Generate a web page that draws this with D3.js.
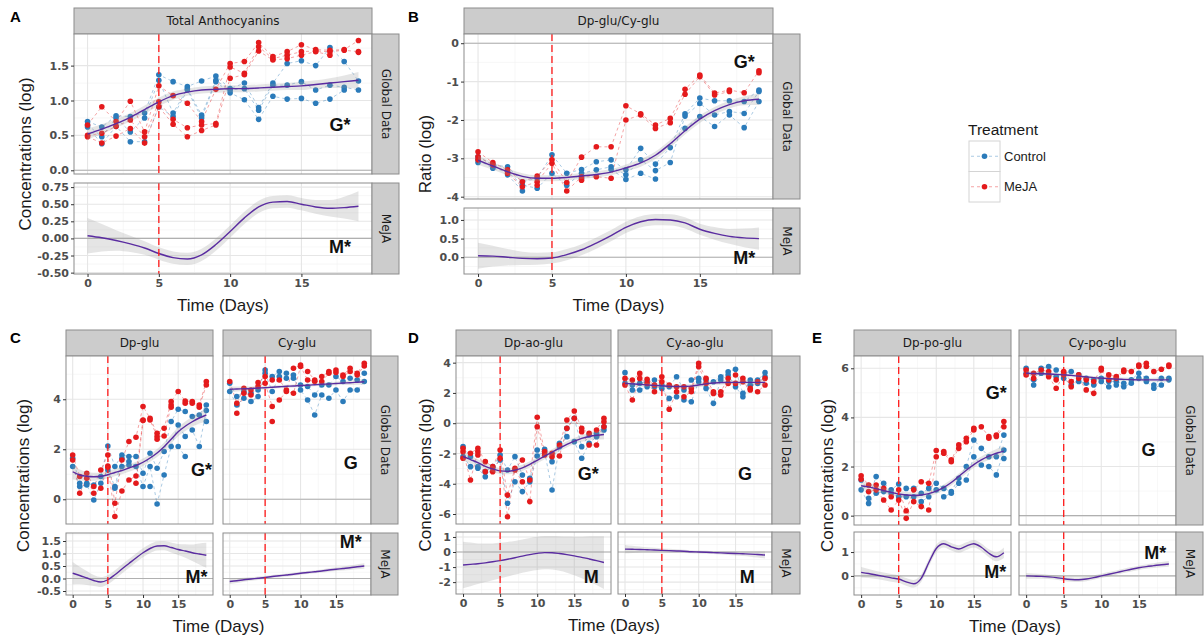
<!DOCTYPE html>
<html>
<head>
<meta charset="utf-8">
<script src="https://cdn.jsdelivr.net/npm/d3@7"></script>
<style>
  body { margin: 0; background: #fff; }
  text { font-family: Arial, "Liberation Sans", sans-serif; }
</style>
</head>
<body>
<svg id="chart" width="1204" height="641"></svg>
<script>
// ---- data (one entry per day 0..19, replicates inside) ----
var days = d3.range(20);

// A: total anthocyanins
var antCtrl = [[0.70,0.65,0.62],[0.62,0.48,0.38],[0.78,0.75,0.63],[0.77,0.55,0.41],[0.82,0.75,0.41],[1.37,1.29,0.91],[1.27,0.82,0.77],[1.20,1.17,1.15],[1.28,0.79,0.75],[1.35,1.29,1.27],[1.17,1.15,1.11],[1.25,1.17,1.01],[0.90,0.86,0.73],[1.25,1.22,1.06],[1.53,1.22,1.02],[1.57,1.27,1.03],[1.50,1.15,0.96],[1.76,1.22,1.02],[1.56,1.19,1.15],[1.28,1.15]];
var antMeja = [[0.65,0.50,0.48],[0.91,0.53,0.39],[0.70,0.63,0.49],[0.99,0.72,0.60],[0.55,0.48,0.39],[1.21,0.98,0.91],[1.07,0.73,0.66],[0.96,0.61,0.48],[0.70,0.65,0.57],[1.16,0.67,0.65],[1.53,1.48,1.32],[1.56,1.39,1.37],[1.83,1.77,1.71],[1.63,1.60,1.58],[1.70,1.65,1.60],[1.80,1.70,1.65],[1.73,1.71,1.70],[1.72,1.70,1.65],[1.73,1.72],[1.86,1.70,1.69]];
var antFit = [0.52,0.59,0.67,0.76,0.87,0.98,1.07,1.12,1.15,1.16,1.17,1.17,1.18,1.19,1.20,1.21,1.23,1.25,1.27,1.29];
var antFitSe = [0.08,0.07,0.06,0.06,0.06,0.06,0.06,0.05,0.05,0.05,0.05,0.05,0.05,0.05,0.05,0.06,0.06,0.07,0.09,0.12];
var antEff = [0.04,0.01,-0.03,-0.08,-0.14,-0.22,-0.28,-0.30,-0.24,-0.09,0.10,0.30,0.46,0.53,0.54,0.50,0.46,0.44,0.45,0.47];
var antEffSe = [0.26,0.20,0.15,0.12,0.10,0.09,0.09,0.09,0.09,0.09,0.09,0.09,0.09,0.09,0.09,0.09,0.10,0.12,0.16,0.22];

// B: Dp-glu / Cy-glu ratio
var ratCtrl = [[-2.96,-3.04,-3.11],[-3.17,-3.26],[-3.22,-3.35,-3.43],[-3.61,-3.70,-3.85],[-3.52,-3.78],[-2.91,-3.39],[-3.39,-3.70],[-3.29,-3.39,-3.52],[-3.09,-3.30],[-3.04,-3.22,-3.29],[-3.30,-3.43,-3.55],[-2.74,-3.04,-3.39],[-3.15,-3.32,-3.54],[-2.72,-3.11],[-1.84,-1.90,-2.22],[-1.43,-1.57,-1.91],[-1.50,-1.87,-2.17],[-1.50,-1.78,-1.87],[-1.52,-1.83,-2.20],[-1.22,-1.26,-1.52]];
var ratMeja = [[-2.83,-2.96,-3.04],[-3.11,-3.17],[-3.30,-3.39],[-3.61,-3.74],[-3.46,-3.61,-3.70],[-3.04,-3.13],[-3.63,-3.85],[-2.97,-3.48,-3.57],[-2.70,-3.48],[-2.70,-3.52],[-1.63,-2.00],[-1.84,-1.87],[-2.13,-2.22],[-1.96,-2.07],[-1.20,-1.33],[-0.83,-0.87],[-1.30,-1.35],[-1.22,-1.26],[-1.29],[-0.72,-0.77]];
var ratFit = [-3.05,-3.20,-3.35,-3.47,-3.52,-3.52,-3.50,-3.46,-3.42,-3.36,-3.25,-3.12,-2.92,-2.62,-2.28,-1.98,-1.76,-1.60,-1.50,-1.46];
var ratFitSe = [0.12,0.10,0.09,0.08,0.08,0.08,0.08,0.08,0.08,0.08,0.09,0.10,0.10,0.10,0.10,0.10,0.10,0.10,0.12,0.15];
var ratEff = [0.04,0.03,0.00,-0.03,-0.04,-0.02,0.07,0.20,0.38,0.58,0.80,0.95,1.01,1.00,0.92,0.75,0.64,0.56,0.52,0.50];
var ratEffSe = [0.35,0.28,0.22,0.18,0.16,0.15,0.15,0.15,0.15,0.15,0.15,0.15,0.15,0.15,0.15,0.15,0.17,0.20,0.25,0.30];

// C: Dp-glu, Cy-glu
var dpgCtrl = [[1.64,1.31],[0.64,0.51],[0.64,0.57],[0.57,-0.03],[0.91,0.64],[2.13,1.17],[1.31,0.51,0.44],[1.77,1.64,1.31],[1.71,1.51,1.37],[1.71,1.31],[1.04,0.51],[1.84,1.31,0.51],[1.24,-0.19],[1.91,0.97],[3.11,2.11],[3.60,2.97,2.11],[3.51,2.51,1.71],[3.31,2.77],[3.37,2.11],[3.77,3.55,3.11]];
var dpgMeja = [[1.77,1.57],[0.91,0.24],[1.04,0.84],[0.51,0.24],[1.17,0.44],[1.77,1.33,1.28],[-0.16,-0.69],[1.57,0.33],[2.31,0.77],[2.48,0.93,0.64],[3.71,3.17,3.15],[3.24,3.17],[2.64,2.51,2.40],[2.84,2.53],[3.91,3.77,3.68],[4.31],[3.93,3.84],[3.91,3.84],[3.77,3.68],[4.71,4.57]];
var dpgFit = [1.10,0.97,0.92,0.90,0.92,0.98,1.07,1.15,1.25,1.35,1.48,1.65,1.85,2.10,2.40,2.70,2.92,3.10,3.25,3.37];
var dpgFitSe = [0.30,0.22,0.18,0.16,0.15,0.15,0.15,0.15,0.15,0.15,0.15,0.15,0.16,0.17,0.18,0.18,0.19,0.20,0.22,0.28];
var dpgEff = [0.21,0.12,0.02,-0.08,-0.14,-0.05,0.15,0.38,0.60,0.82,1.03,1.20,1.30,1.31,1.24,1.16,1.10,1.03,0.98,0.93];
var dpgEffSe = [0.45,0.35,0.28,0.22,0.20,0.18,0.18,0.18,0.18,0.18,0.18,0.18,0.18,0.18,0.20,0.22,0.27,0.33,0.42,0.50];

var cygCtrl = [[4.64,4.31],[4.11,3.77],[4.31,4.04],[4.24,3.91],[4.37,4.11],[5.17,5.04],[4.91,4.31],[5.11,4.91],[5.04,4.84],[4.97,4.84],[4.57,4.37],[4.51,3.97],[4.17,3.37],[4.57,4.17],[4.57,4.04],[4.91,4.37],[4.71,3.91],[4.84,4.37],[4.77,4.37],[5.04,4.71]];
var cygMeja = [[4.71],[3.84,3.44],[4.44,4.24],[4.37,4.17],[4.67,4.51],[4.91,4.64],[4.77,3.71,3.11],[4.77,3.97],[4.37,4.31],[5.24,4.24],[5.37,5.31],[5.11,4.77],[4.77,4.71],[4.91,4.71],[5.11,5.04],[5.17,5.07],[4.97,4.91],[5.24,5.11],[5.04,4.97],[5.44,5.33]];
var cygFit = [4.40,4.41,4.42,4.43,4.45,4.46,4.48,4.50,4.52,4.53,4.55,4.56,4.58,4.60,4.61,4.63,4.65,4.66,4.68,4.70];
var cygFitSe = [0.12,0.10,0.09,0.08,0.07,0.07,0.06,0.06,0.06,0.06,0.06,0.06,0.06,0.06,0.07,0.07,0.08,0.09,0.10,0.12];
var cygEff = [-0.12,-0.09,-0.05,-0.02,0.01,0.04,0.08,0.11,0.14,0.17,0.21,0.24,0.27,0.30,0.34,0.37,0.40,0.43,0.47,0.50];
var cygEffSe = [0.10,0.09,0.08,0.07,0.07,0.06,0.06,0.06,0.06,0.06,0.06,0.06,0.06,0.06,0.07,0.07,0.08,0.09,0.10,0.11];

// D: Dp-ao-glu, Cy-ao-glu
var dpaCtrl = [[-1.55,-2.21],[-2.21,-2.87],[-2.87,-2.98],[-3.20,-3.53],[-2.87,-2.98],[-2.10,-2.43],[-3.09,-5.29],[-2.21,-3.87],[-3.42,-4.52],[-3.64,-3.87],[-1.77,-2.17],[-1.73,-1.88],[-2.54,-4.41],[-1.33,-1.55],[-0.34,-0.89],[0.32,-1.22],[-1.55,-2.32],[-0.78,-1.33],[-0.67,-0.89],[-0.23,-0.45]];
var dpaMeja = [[-1.66,-1.88,-2.32],[-1.99,-3.75],[-1.66,-1.88,-2.10],[-2.54,-3.20],[-2.87,-3.20],[-1.77,-2.32],[-4.75,-6.18],[-2.98,-3.09],[-2.43,-3.87],[-3.75,-5.18],[0.39,-0.23],[-1.88,-2.10],[-1.99,-2.21],[-1.44,-2.17],[0.21,-0.34],[0.81,0.32],[-0.34,-0.56],[-0.67,-1.44],[-0.45,-1.44],[0.32,0.10,-0.23]];
var dpaFit = [-2.20,-2.40,-2.60,-2.85,-3.02,-3.15,-3.18,-3.10,-2.95,-2.72,-2.45,-2.18,-1.92,-1.65,-1.40,-1.18,-1.00,-0.88,-0.80,-0.75];
var dpaFitSe = [0.30,0.25,0.22,0.20,0.20,0.20,0.20,0.20,0.20,0.20,0.20,0.20,0.20,0.20,0.20,0.20,0.22,0.24,0.27,0.32];
var dpaEff = [-0.86,-0.82,-0.78,-0.72,-0.65,-0.57,-0.48,-0.38,-0.27,-0.17,-0.09,-0.04,-0.05,-0.10,-0.17,-0.26,-0.36,-0.46,-0.57,-0.70];
var dpaEffSe = [1.55,1.45,1.35,1.28,1.22,1.18,1.15,1.12,1.10,1.10,1.10,1.10,1.12,1.15,1.20,1.28,1.38,1.50,1.62,1.75];

var cyaCtrl = [[3.34,2.63],[2.52,2.19],[2.63,2.19],[2.74,2.41],[2.85,2.41],[2.52,2.30],[2.41,1.64],[3.07,1.75],[2.19,1.53],[2.85,1.42],[2.96,2.74],[2.85,2.30],[2.74,1.31],[3.07,2.85],[3.40,3.18],[3.56,2.41],[1.97,1.75],[2.85,2.52],[2.85,2.63],[3.34,3.07]];
var cyaMeja = [[2.96,2.52],[2.85,1.53],[3.29,2.96],[2.90,2.63],[2.52,2.08],[3.07,2.74],[2.52,0.92],[2.41,2.08],[2.41,1.75],[2.30,2.08],[3.95,3.73],[2.96,2.63],[2.08,1.97],[2.08,1.86],[2.96,2.63],[3.18,2.63],[2.96,2.74],[2.30,2.19],[2.74,2.08],[2.96,2.52]];
var cyaFit = [2.63,2.60,2.57,2.53,2.50,2.47,2.44,2.42,2.42,2.45,2.52,2.60,2.66,2.68,2.70,2.70,2.70,2.70,2.70,2.70];
var cyaFitSe = [0.20,0.17,0.15,0.14,0.14,0.14,0.14,0.14,0.14,0.14,0.14,0.14,0.14,0.14,0.14,0.14,0.15,0.16,0.18,0.21];
var cyaEff = [0.19,0.18,0.17,0.15,0.13,0.11,0.09,0.07,0.05,0.02,0.00,-0.02,-0.04,-0.06,-0.08,-0.10,-0.12,-0.14,-0.17,-0.20];
var cyaEffSe = [0.28,0.24,0.20,0.17,0.15,0.13,0.12,0.11,0.10,0.10,0.10,0.10,0.10,0.11,0.12,0.13,0.15,0.17,0.20,0.23];

// E: Dp-po-glu, Cy-po-glu
var dppCtrl = [[1.45,1.05],[0.71,0.50],[1.59,0.91],[1.32,0.98],[1.05,0.91],[1.29,0.77],[1.11,0.77],[1.11,0.77],[0.91,0.57],[1.11,0.77],[1.32,1.05],[1.11,0.77],[0.98,0.91],[1.52,1.32],[2.00,1.45],[3.08,2.40],[2.74,2.06],[2.40,2.00],[2.40,1.66],[3.28,2.67,2.33]];
var dppMeja = [[1.62,1.48],[1.25,0.98],[1.25,1.05],[1.11,0.64],[0.77,0.23],[1.05,0.64],[0.20,-0.11],[1.05,0.57],[1.38,0.37],[1.32,0.23],[2.65,2.40],[2.61,2.54],[2.27,2.20],[2.88,2.74],[3.15,3.01],[3.56,3.49],[3.62],[3.22,3.15],[3.28,3.22],[3.83,3.62]];
var dppFit = [1.22,1.17,1.10,1.02,0.95,0.88,0.84,0.82,0.84,0.90,1.00,1.15,1.35,1.60,1.85,2.08,2.27,2.42,2.54,2.63];
var dppFitSe = [0.20,0.16,0.14,0.13,0.12,0.12,0.12,0.12,0.12,0.12,0.12,0.12,0.12,0.12,0.13,0.13,0.14,0.15,0.17,0.22];
var dppEff = [0.15,0.10,0.04,-0.02,-0.08,-0.13,-0.25,-0.33,-0.10,0.55,1.15,1.35,1.22,1.13,1.25,1.35,1.20,0.95,0.80,0.97];
var dppEffSe = [0.22,0.19,0.17,0.16,0.16,0.16,0.16,0.16,0.16,0.16,0.16,0.16,0.16,0.16,0.16,0.16,0.16,0.17,0.19,0.22];

var cypCtrl = [[6.00,5.80],[5.53,5.32],[6.00,5.80],[6.07,5.73],[5.93,5.66],[5.80,5.59],[5.87,5.32],[5.73,5.46],[5.59,5.39],[5.53,5.32],[5.59,5.46],[5.46,5.25],[5.46,5.32],[5.39,5.25],[5.53,5.39],[5.80,5.59],[5.59,5.46],[5.32,5.19],[5.59,5.32],[5.59,5.53]];
var cypMeja = [[5.93,5.73],[5.80,5.59],[5.93],[5.87,5.66],[5.53,5.19],[5.87,5.73],[5.46,5.25],[5.73,5.59],[5.53,5.12],[5.46,4.98],[6.00,5.93],[5.73,5.53],[5.66,5.59],[5.93,5.87],[5.87],[6.13,6.07],[6.20,6.07],[5.87],[5.96],[6.13,6.07]];
var cypFit = [5.80,5.79,5.78,5.77,5.75,5.73,5.71,5.68,5.65,5.62,5.60,5.58,5.56,5.55,5.54,5.53,5.53,5.53,5.53,5.53];
var cypFitSe = [0.10,0.09,0.08,0.07,0.07,0.07,0.07,0.07,0.07,0.07,0.07,0.07,0.07,0.07,0.07,0.07,0.07,0.08,0.09,0.10];
var cypEff = [0.00,-0.01,-0.02,-0.04,-0.07,-0.12,-0.15,-0.16,-0.13,-0.07,0.00,0.07,0.14,0.21,0.28,0.34,0.39,0.43,0.47,0.50];
var cypEffSe = [0.12,0.11,0.10,0.09,0.09,0.09,0.09,0.09,0.09,0.09,0.09,0.09,0.09,0.09,0.09,0.09,0.09,0.10,0.11,0.12];

var treatments = ["Control", "MeJA"];

// ---- styling ----
var colCtrl = "#2b7bba", colMeja = "#e41a1c", colFit = "#5a2ca0";
var stripFill = "#cccccc", frame = "#8c8c8c";
var tickFont = "'DejaVu Sans', Verdana, sans-serif";
var svg = d3.select("#chart");
var clipCount = 0;

function fmt(spec) {
  var f = d3.format(spec);
  return function(v) { return f(v).replace("\u2212", "-"); };
}

// layout of each figure block
var groups = [
  { letter: "A", letterPos: [10, 22], yTitle: "Concentrations (log)", yTitleX: 25,
    cols: [[74, 372]], strip: [8, 34], top: [34, 174], bot: [183, 274], rstrip: [372, 399],
    yTop: [-0.053, 1.953], yTopTicks: [0, 0.5, 1, 1.5], yTopFmt: ".1f",
    yBot: [-0.52, 0.81], yBotTicks: [-0.5, -0.25, 0, 0.25, 0.5, 0.75], yBotFmt: ".2f",
    facets: [
      { name: "Total Anthocyanins", ctrl: antCtrl, meja: antMeja, fit: antFit, fitSe: antFitSe, eff: antEff, effSe: antEffSe,
        topNote: ["G*", 17.7, 0.65], botNote: ["M*", 17.7, -0.125] }
    ] },
  { letter: "B", letterPos: [408, 22], yTitle: "Ratio (log)", yTitleX: 425,
    cols: [[464, 773]], strip: [8, 34], top: [34, 199], bot: [208, 274], rstrip: [773, 800],
    yTop: [-4.06, 0.24], yTopTicks: [-4, -3, -2, -1, 0], yTopFmt: "d",
    yBot: [-0.45, 1.32], yBotTicks: [0, 0.5, 1], yBotFmt: ".1f",
    facets: [
      { name: "Dp-glu/Cy-glu", ctrl: ratCtrl, meja: ratMeja, fit: ratFit, fitSe: ratFitSe, eff: ratEff, effSe: ratEffSe,
        topNote: ["G*", 18.0, -0.49], botNote: ["M*", 18.0, -0.02] }
    ] },
  { letter: "C", letterPos: [10, 343], yTitle: "Concentrations (log)", yTitleX: 23,
    cols: [[66, 213], [223, 371]], strip: [330, 356], top: [356, 524], bot: [533, 595], rstrip: [371, 398],
    yTop: [-0.99, 5.73], yTopTicks: [0, 2, 4], yTopFmt: "d",
    yBot: [-0.66, 1.82], yBotTicks: [-0.5, 0, 0.5, 1, 1.5], yBotFmt: ".1f",
    facets: [
      { name: "Dp-glu", ctrl: dpgCtrl, meja: dpgMeja, fit: dpgFit, fitSe: dpgFitSe, eff: dpgEff, effSe: dpgEffSe,
        topNote: ["G*", 18.3, 1.17], botNote: ["M*", 17.6, 0.06] },
      { name: "Cy-glu", ctrl: cygCtrl, meja: cygMeja, fit: cygFit, fitSe: cygFitSe, eff: cygEff, effSe: cygEffSe,
        topNote: ["G", 17.1, 1.45], botNote: ["M*", 17.1, 1.46] }
    ] },
  { letter: "D", letterPos: [408, 343], yTitle: "Concentrations (log)", yTitleX: 425,
    cols: [[456, 611], [618, 772]], strip: [330, 356], top: [356, 524], bot: [532, 594], rstrip: [772, 800],
    yTop: [-6.66, 4.44], yTopTicks: [-6, -4, -2, 0, 2, 4], yTopFmt: "d",
    yBot: [-2.79, 1.33], yBotTicks: [-2, -1, 0, 1], yBotFmt: "d",
    facets: [
      { name: "Dp-ao-glu", ctrl: dpaCtrl, meja: dpaMeja, fit: dpaFit, fitSe: dpaFitSe, eff: dpaEff, effSe: dpaEffSe,
        topNote: ["G*", 16.9, -3.36], botNote: ["M", 17.3, -1.65] },
      { name: "Cy-ao-glu", ctrl: cyaCtrl, meja: cyaMeja, fit: cyaFit, fitSe: cyaFitSe, eff: cyaEff, effSe: cyaEffSe,
        topNote: ["G", 16.3, -3.36], botNote: ["M", 16.6, -1.65] }
    ] },
  { letter: "E", letterPos: [812, 343], yTitle: "Concentrations (log)", yTitleX: 827,
    cols: [[854, 1011], [1019, 1176]], strip: [330, 356], top: [356, 525], bot: [532, 595], rstrip: [1176, 1203],
    yTop: [-0.38, 6.5], yTopTicks: [0, 2, 4, 6], yTopFmt: "d",
    yBot: [-0.8, 1.84], yBotTicks: [0, 1], yBotFmt: "d",
    facets: [
      { name: "Dp-po-glu", ctrl: dppCtrl, meja: dppMeja, fit: dppFit, fitSe: dppFitSe, eff: dppEff, effSe: dppEffSe,
        topNote: ["G*", 18.0, 5.0], botNote: ["M*", 17.85, 0.17] },
      { name: "Cy-po-glu", ctrl: cypCtrl, meja: cypMeja, fit: cypFit, fitSe: cypFitSe, eff: cypEff, effSe: cypEffSe,
        topNote: ["G", 16.3, 2.67], botNote: ["M*", 17.2, 0.97] }
    ] }
];

function minorBreaks(ticks, domain) {
  var step = ticks[1] - ticks[0], out = [];
  for (var v = ticks[0] - step / 2; v <= domain[1]; v += step) {
    if (v >= domain[0]) out.push(v);
  }
  return out;
}

function strip(x, y, w, h, label, vertical) {
  svg.append("rect").attr("x", x).attr("y", y).attr("width", w).attr("height", h)
    .attr("fill", stripFill).attr("stroke", frame).attr("stroke-width", 1);
  var t = svg.append("text")
    .attr("text-anchor", "middle").attr("dominant-baseline", "central")
    .style("font-family", tickFont).style("font-size", "12px").style("fill", "#1a1a1a").text(label);
  if (vertical) t.attr("transform", "translate(" + (x + w / 2) + "," + (y + h / 2) + ") rotate(90)");
  else t.attr("x", x + w / 2).attr("y", y + h / 2);
}

function repLines(gp, x, y, series, color) {
  var nRep = d3.max(series, function(a) { return a.length; });
  d3.range(nRep).forEach(function(k) {
    var line = d3.line()
      .defined(function(d) { return series[d][k] != null; })
      .x(function(d) { return x(d); })
      .y(function(d) { return y(series[d][k]); });
    gp.append("path").attr("d", line(days)).attr("fill", "none")
      .attr("stroke", color).attr("stroke-opacity", 0.4)
      .attr("stroke-width", 1).attr("stroke-dasharray", "3,3");
  });
}

function points(gp, x, y, series, color) {
  var flat = [];
  series.forEach(function(vals, d) { vals.forEach(function(v) { flat.push([d, v]); }); });
  gp.selectAll(null).data(flat).enter().append("circle")
    .attr("cx", function(p) { return x(p[0]); })
    .attr("cy", function(p) { return y(p[1]); })
    .attr("r", 2.8).attr("fill", color);
}

function smooth(gp, x, y, fit, se) {
  var area = d3.area().curve(d3.curveMonotoneX)
    .x(function(d) { return x(d); })
    .y0(function(d) { return y(fit[d] - se[d]); })
    .y1(function(d) { return y(fit[d] + se[d]); });
  gp.append("path").attr("d", area(days)).attr("fill", "#999").attr("fill-opacity", 0.25);
  var line = d3.line().curve(d3.curveMonotoneX)
    .x(function(d) { return x(d); })
    .y(function(d) { return y(fit[d]); });
  gp.append("path").attr("d", line(days)).attr("fill", "none")
    .attr("stroke", colFit).attr("stroke-width", 1.4);
}

function panel(g, f, x, y, yr, ticks, tickFmt, isTop, showY) {
  var x0 = x.range()[0], x1 = x.range()[1];
  var dom = y.domain();
  svg.append("rect").attr("x", x0).attr("y", yr[0]).attr("width", x1 - x0).attr("height", yr[1] - yr[0])
    .attr("fill", "#fff");
  var grid = svg.append("g");
  // minor grid
  [2.5, 7.5, 12.5, 17.5].forEach(function(v) {
    grid.append("line").attr("x1", x(v)).attr("x2", x(v)).attr("y1", yr[0]).attr("y2", yr[1])
      .attr("stroke", "#f2f2f2").attr("stroke-width", 0.6);
  });
  minorBreaks(ticks, dom).forEach(function(v) {
    grid.append("line").attr("x1", x0).attr("x2", x1).attr("y1", y(v)).attr("y2", y(v))
      .attr("stroke", "#f2f2f2").attr("stroke-width", 0.6);
  });
  // major grid
  [0, 5, 10, 15].forEach(function(v) {
    grid.append("line").attr("x1", x(v)).attr("x2", x(v)).attr("y1", yr[0]).attr("y2", yr[1])
      .attr("stroke", "#e6e6e6").attr("stroke-width", 1.1);
  });
  ticks.forEach(function(v) {
    grid.append("line").attr("x1", x0).attr("x2", x1).attr("y1", y(v)).attr("y2", y(v))
      .attr("stroke", "#e6e6e6").attr("stroke-width", 1.1);
  });
  // zero reference line
  svg.append("line").attr("x1", x0).attr("x2", x1).attr("y1", y(0)).attr("y2", y(0))
    .attr("stroke", "#b0b0b0").attr("stroke-width", 1.1);

  var id = "clip" + (clipCount++);
  svg.append("clipPath").attr("id", id).append("rect")
    .attr("x", x0).attr("y", yr[0]).attr("width", x1 - x0).attr("height", yr[1] - yr[0]);
  var gp = svg.append("g").attr("clip-path", "url(#" + id + ")");

  if (isTop) {
    repLines(gp, x, y, f.ctrl, colCtrl);
    repLines(gp, x, y, f.meja, colMeja);
    points(gp, x, y, f.ctrl, colCtrl);
    points(gp, x, y, f.meja, colMeja);
    smooth(gp, x, y, f.fit, f.fitSe);
  } else {
    smooth(gp, x, y, f.eff, f.effSe);
  }
  // treatment start (day 5)
  gp.append("line").attr("x1", x(5)).attr("x2", x(5)).attr("y1", yr[0]).attr("y2", yr[1])
    .attr("stroke", "#ff1a1a").attr("stroke-width", 1.3).attr("stroke-dasharray", "7,4");

  var note = isTop ? f.topNote : f.botNote;
  svg.append("text").attr("x", x(note[1])).attr("y", y(note[2]))
    .attr("text-anchor", "middle").attr("dominant-baseline", "central")
    .style("font-size", "18px").style("font-weight", "bold").style("fill", "#111")
    .text(note[0]);

  svg.append("rect").attr("x", x0).attr("y", yr[0]).attr("width", x1 - x0).attr("height", yr[1] - yr[0])
    .attr("fill", "none").attr("stroke", frame).attr("stroke-width", 1);

  if (showY) {
    var ax = svg.append("g").attr("transform", "translate(" + x0 + ",0)")
      .call(d3.axisLeft(y).tickValues(ticks).tickFormat(fmt(tickFmt)).tickSize(3).tickPadding(2));
    ax.select(".domain").remove();
    ax.selectAll("line").attr("stroke", "#333");
    ax.selectAll("text").style("font-size", "11px").style("font-weight", "bold").style("fill", "#4d4d4d")
      .style("font-family", tickFont);
  }
}

groups.forEach(function(g) {
  var yTop = d3.scaleLinear().domain(g.yTop).range([g.top[1], g.top[0]]);
  var yBot = d3.scaleLinear().domain(g.yBot).range([g.bot[1], g.bot[0]]);
  g.facets.forEach(function(f, ci) {
    var c = g.cols[ci];
    var x = d3.scaleLinear().domain([-0.95, 19.95]).range(c);
    strip(c[0], g.strip[0], c[1] - c[0], g.strip[1] - g.strip[0], f.name, false);
    panel(g, f, x, yTop, g.top, g.yTopTicks, g.yTopFmt, true, ci === 0);
    panel(g, f, x, yBot, g.bot, g.yBotTicks, g.yBotFmt, false, ci === 0);
    var xa = svg.append("g").attr("transform", "translate(0," + g.bot[1] + ")")
      .call(d3.axisBottom(x).tickValues([0, 5, 10, 15]).tickFormat(d3.format("d")).tickSize(3).tickPadding(2));
    xa.select(".domain").remove();
    xa.selectAll("line").attr("stroke", "#333");
    xa.selectAll("text").style("font-size", "11px").style("font-weight", "bold").style("fill", "#4d4d4d")
      .style("font-family", tickFont);
  });
  strip(g.rstrip[0], g.top[0], g.rstrip[1] - g.rstrip[0], g.top[1] - g.top[0], "Global Data", true);
  strip(g.rstrip[0], g.bot[0], g.rstrip[1] - g.rstrip[0], g.bot[1] - g.bot[0], "MeJA", true);

  var left = g.cols[0][0], right = g.cols[g.cols.length - 1][1];
  svg.append("text").attr("x", (left + right) / 2).attr("y", g.bot[1] + 37)
    .attr("text-anchor", "middle").style("font-size", "17px").style("fill", "#1a1a1a")
    .text("Time (Days)");
  svg.append("text")
    .attr("transform", "translate(" + g.yTitleX + "," + ((g.top[0] + g.bot[1]) / 2) + ") rotate(-90)")
    .attr("text-anchor", "middle").attr("dominant-baseline", "central")
    .style("font-size", "17px").style("fill", "#1a1a1a").text(g.yTitle);
  svg.append("text").attr("x", g.letterPos[0]).attr("y", g.letterPos[1])
    .style("font-size", "15px").style("font-weight", "bold").style("fill", "#000").text(g.letter);
});

// legend
var lg = svg.append("g");
lg.append("text").attr("x", 968).attr("y", 135).style("font-size", "15.5px").style("fill", "#1a1a1a")
  .text("Treatment");
treatments.forEach(function(t, i) {
  var col = i === 0 ? colCtrl : colMeja;
  var y0 = 141 + i * 30.5;
  lg.append("rect").attr("x", 969).attr("y", y0).attr("width", 31).attr("height", 30.5)
    .attr("fill", "#fff").attr("stroke", "#d4d4d4");
  lg.append("line").attr("x1", 971).attr("x2", 998).attr("y1", y0 + 15.25).attr("y2", y0 + 15.25)
    .attr("stroke", col).attr("stroke-opacity", 0.4).attr("stroke-dasharray", "3,3");
  lg.append("circle").attr("cx", 984.5).attr("cy", y0 + 15.25).attr("r", 2.8).attr("fill", col);
  lg.append("text").attr("x", 1004).attr("y", y0 + 15.25).attr("dominant-baseline", "central")
    .style("font-size", "13px").style("fill", "#1a1a1a").text(t);
});
</script>
</body>
</html>
